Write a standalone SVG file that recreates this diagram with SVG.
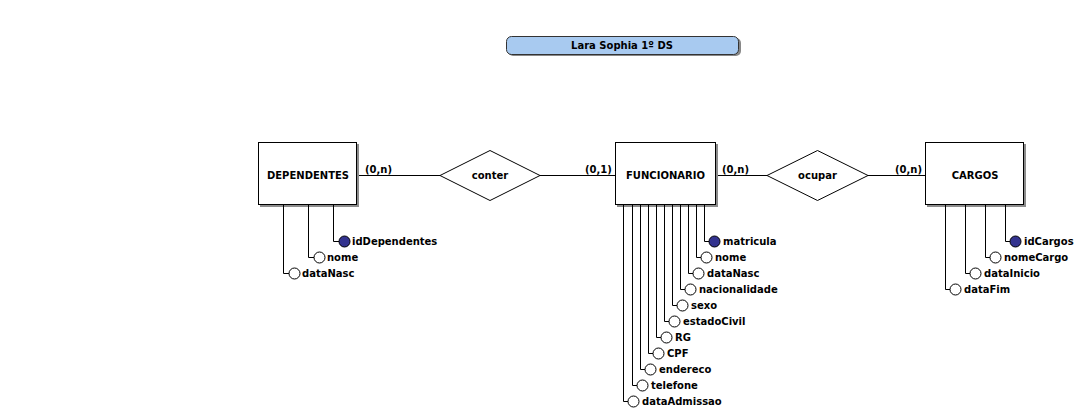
<svg xmlns="http://www.w3.org/2000/svg" width="1086" height="415" viewBox="0 0 1086 415">
<style>
text{font-family:"DejaVu Sans","Liberation Sans",sans-serif;font-weight:bold;font-size:10px;fill:#000}
.ent{fill:#fff;stroke:#000;stroke-width:1}
.sh{fill:#8c8c8c}
.rel{fill:#fff;stroke:#000;stroke-width:1}
.ln{fill:none;stroke:#000;stroke-width:1}
.att{fill:#fff;stroke:#000;stroke-width:1}
.key{fill:#33338f;stroke:#000;stroke-width:1}
.c{text-anchor:middle}
</style>
<rect width="1086" height="415" fill="#fff"/>
<g id="title">
<rect x="508" y="38" width="233" height="18" rx="5" fill="#888"/>
<rect x="506.5" y="36.5" width="232" height="18" rx="5" fill="#a8caf0" stroke="#333"/>
<text x="622" y="49" class="c">Lara Sophia 1º DS</text>
</g>
<g id="connectors">
<path class="ln" d="M357,175.5H440M540,175.5H615M716,175.5H767M868,175.5H925"/>
<text x="365" y="173">(0,n)</text>
<text x="585" y="173">(0,1)</text>
<text x="722" y="173">(0,n)</text>
<text x="895" y="173">(0,n)</text>
</g>
<g id="DEPENDENTES">
<rect class="sh" x="260" y="144" width="99" height="63"/>
<rect class="ent" x="258.5" y="142.5" width="98" height="62"/>
<text x="308" y="179" class="c">DEPENDENTES</text>
</g>
<g id="conter">
<polygon class="rel" points="440,175.5 490,150.5 540,175.5 490,200.5"/>
<text x="490" y="179" class="c">conter</text>
</g>
<g id="FUNCIONARIO">
<rect class="sh" x="617" y="144" width="101" height="63"/>
<rect class="ent" x="615.5" y="142.5" width="100" height="62"/>
<text x="665.5" y="179" class="c">FUNCIONARIO</text>
</g>
<g id="ocupar">
<polygon class="rel" points="767,175.5 817.5,150.5 868,175.5 817.5,200.5"/>
<text x="817.5" y="179" class="c">ocupar</text>
</g>
<g id="CARGOS">
<rect class="sh" x="927" y="144" width="99" height="63"/>
<rect class="ent" x="925.5" y="142.5" width="98" height="62"/>
<text x="975" y="179" class="c">CARGOS</text>
</g>
<g id="attr-DEPENDENTES">
<path class="ln" d="M333.5,205V241.5H339M308.5,205V257.5H314M283.5,205V273.5H289"/>
<circle class="key" cx="344.5" cy="241.5" r="5.5"/><text x="352" y="245">idDependentes</text>
<circle class="att" cx="319.5" cy="257.5" r="5.5"/><text x="327" y="261">nome</text>
<circle class="att" cx="294.5" cy="273.5" r="5.5"/><text x="302" y="277">dataNasc</text>
</g>
<g id="attr-FUNCIONARIO">
<path class="ln" d="M704.5,205V241.5H709M696.5,205V257.5H701M688.5,205V273.5H693M680.5,205V289.5H685M672.5,205V305.5H677M664.5,205V321.5H669M656.5,205V337.5H661M648.5,205V353.5H653M640.5,205V369.5H645M632.5,205V385.5H637M623.5,205V401.5H628"/>
<circle class="key" cx="714.5" cy="241.5" r="5.5"/><text x="723" y="245">matricula</text>
<circle class="att" cx="706.5" cy="257.5" r="5.5"/><text x="715" y="261">nome</text>
<circle class="att" cx="698.5" cy="273.5" r="5.5"/><text x="707" y="277">dataNasc</text>
<circle class="att" cx="690.5" cy="289.5" r="5.5"/><text x="699" y="293">nacionalidade</text>
<circle class="att" cx="682.5" cy="305.5" r="5.5"/><text x="691" y="309">sexo</text>
<circle class="att" cx="674.5" cy="321.5" r="5.5"/><text x="683" y="325">estadoCivil</text>
<circle class="att" cx="666.5" cy="337.5" r="5.5"/><text x="675" y="341">RG</text>
<circle class="att" cx="658.5" cy="353.5" r="5.5"/><text x="667" y="357">CPF</text>
<circle class="att" cx="650.5" cy="369.5" r="5.5"/><text x="659" y="373">endereco</text>
<circle class="att" cx="642.5" cy="385.5" r="5.5"/><text x="651" y="389">telefone</text>
<circle class="att" cx="633.5" cy="401.5" r="5.5"/><text x="642" y="405">dataAdmissao</text>
</g>
<g id="attr-CARGOS">
<path class="ln" d="M1005.5,205V241.5H1010M985.5,205V257.5H990M965.5,205V273.5H970M945.5,205V289.5H950"/>
<circle class="key" cx="1015.5" cy="241.5" r="5.5"/><text x="1024" y="245">idCargos</text>
<circle class="att" cx="995.5" cy="257.5" r="5.5"/><text x="1004" y="261">nomeCargo</text>
<circle class="att" cx="975.5" cy="273.5" r="5.5"/><text x="984" y="277">dataInicio</text>
<circle class="att" cx="955.5" cy="289.5" r="5.5"/><text x="964" y="293">dataFim</text>
</g>
</svg>
